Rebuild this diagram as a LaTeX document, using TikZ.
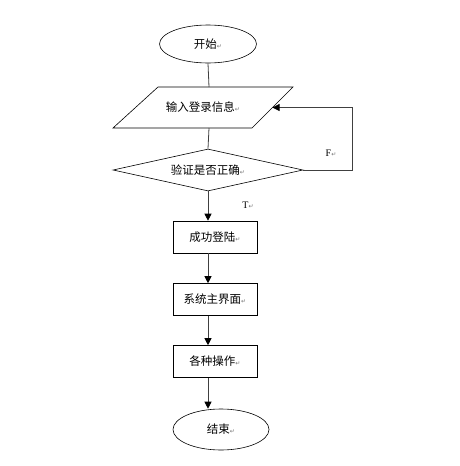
\documentclass[tikz,border=0pt]{standalone}
\usepackage{fontspec}
\setmainfont{Liberation Serif}
\newfontfamily\cjk{Noto Sans CJK SC}
\newfontfamily\symf{DejaVu Sans}
\usetikzlibrary{shapes.geometric,arrows.meta,calc}
\newcommand{\pmark}{{\symf\fontsize{6}{7}\selectfont\color{black!55}↵}}

\begin{document}
\begin{tikzpicture}[x=1pt,y=-1pt]

\tikzstyle{flowText}=[font=\cjk\fontsize{11.5}{13}\selectfont,inner sep=0pt,draw=black,line width=0.6pt]
\tikzstyle{terminal}=[flowText,ellipse]
\tikzstyle{process}=[flowText,rectangle,minimum width=84pt,minimum height=32pt]
\tikzstyle{decision}=[flowText,diamond,aspect=4.5,minimum width=190pt,minimum height=42pt]
\tikzstyle{outline}=[draw=black,line width=0.6pt]
\tikzstyle{link}=[draw=black!75,line width=0.8pt]
\tikzstyle{arrow}=[link,-{Triangle[length=7pt,width=7pt,color=black]}]
\tikzstyle{branch}=[font=\fontsize{10}{12}\selectfont,inner sep=0pt]

\useasboundingbox (0,0) rectangle (459,466);

%terminals
\node[terminal,minimum width=97pt,minimum height=38pt] (start)  at (208,44)  {开始\pmark};
\node[terminal,minimum width=96pt,minimum height=41pt] (finish) at (221,429.5) {结束\pmark};

%input (parallelogram) and check
\draw[outline] (113,128) -- (158,87) -- (293,87) -- (252,128) -- cycle;
\node[flowText,draw=none] (input) at (203,107.5) {输入登录信息\pmark};
\coordinate (inputTop)    at (209,87);
\coordinate (inputBottom) at (209,128);
\coordinate (inputRight)  at (272.5,107.5);
\node[decision] (check) at (208,170) {验证是否正确\pmark};

%process boxes
\node[process] (login)   at (215,237)   {成功登陆\pmark};
\node[process] (sysmain) at (215,299.5) {系统主界面\pmark};
\node[process] (ops)     at (215,361.5) {各种操作\pmark};

%branch labels
\node[branch] (labelF) at (331,153) {F\pmark};
\node[branch] (labelT) at (248,205) {T\pmark};

% connections
\coordinate (loopR) at (352,0);

\draw[link]  (start.south) -- (inputTop);
\draw[link]  (inputBottom) -- (check.north);
\draw[arrow] (check.east) -- (check.east -| loopR) |- (inputRight);

\draw[arrow] (check.south) -- (check.south |- login.north);
\draw[arrow] (login.south -| check.south) -- (sysmain.north -| check.south);
\draw[arrow] (sysmain.south -| check.south) -- (ops.north -| check.south);
\draw[arrow] (ops.south -| check.south) -- (check.south |- finish.north);

\end{tikzpicture}
\end{document}
